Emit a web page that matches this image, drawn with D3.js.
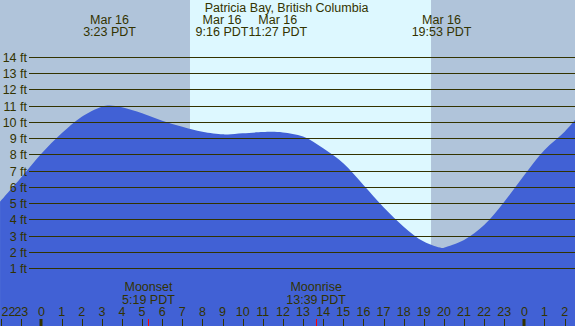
<!DOCTYPE html>
<html>
<head>
<meta charset="utf-8">
<script src="https://cdn.jsdelivr.net/npm/d3@7"></script>
<style>
html,body{margin:0;padding:0;background:#fff;}
svg{display:block;}
text{font-family:"Liberation Sans",Arial,sans-serif;font-size:12.5px;fill:#333300;}
</style>
</head>
<body>
<script>
// ---- data (hours relative to midnight Mar 16, PDT) ----
const title = "Patricia Bay, British Columbia";
const tideHours  = [-2.06, -1, 0, 1, 2, 3, 3.383, 4, 5, 6, 7, 8, 9, 9.267, 10, 11, 11.45, 12, 13, 14, 15, 16, 17, 18, 19, 19.883, 20, 21, 22, 23, 24, 25, 26, 26.52];
const tideLevels = [5.09, 6.59, 8.06, 9.29, 10.31, 10.93, 11.0, 10.89, 10.52, 10.07, 9.70, 9.39, 9.23, 9.22, 9.29, 9.37, 9.39, 9.35, 9.10, 8.37, 7.45, 6.12, 4.75, 3.56, 2.64, 2.25, 2.27, 2.74, 3.66, 5.09, 6.73, 8.27, 9.39, 10.11];
const extremeHours  = [3.383, 9.267, 11.45, 19.883];
const extremeLabels = ["3:23 PDT", "9:16 PDT", "11:27 PDT", "19:53 PDT"];
const extremeDate = "Mar 16";
const sunrise = 7.38, sunset = 19.36;
const moonHours  = [5.317, 13.65];
const moonNames  = ["Moonset", "Moonrise"];
const moonLabels = ["5:19 PDT", "13:39 PDT"];
const yTicks = [1,2,3,4,5,6,7,8,9,10,11,12,13,14];
const hourTicks = d3.range(-2, 27);

// ---- layout ----
const W = 575, H = 326;
const x = d3.scaleLinear().domain([-2.0626, 26.516]).range([0, W]);
const y = d3.scaleLinear().domain([0, 14]).range([284.58, 56.7]);

const svg = d3.select("body").append("svg").attr("width", W).attr("height", H);

const nightCol = "#b0c4da", dayCol = "#ddf8ff", waterCol = "#4161d5", ink = "#333300";

// backgrounds
svg.append("rect").attr("x",0).attr("y",0).attr("width",W).attr("height",H).attr("fill",nightCol);
svg.append("rect").attr("x",x(sunrise)).attr("y",0).attr("width",x(sunset)-x(sunrise)).attr("height",H).attr("fill",dayCol);

// water
const pts = tideHours.map((h,i)=>[h, tideLevels[i]]);
const area = d3.area().x(d=>x(d[0])).y0(H).y1(d=>y(d[1])).curve(d3.curveCatmullRom.alpha(0.5));
svg.append("path").datum(pts).attr("d", area).attr("fill", waterCol);

// grid lines + y labels
const yAxis = svg.append("g");
yTicks.forEach(v=>{
  const yy = Math.round(y(v)) + 0.5;
  yAxis.append("line").attr("x1",29).attr("x2",W).attr("y1",yy).attr("y2",yy)
    .attr("stroke",ink).attr("stroke-width",1);
  yAxis.append("text").attr("x",27).attr("y",yy+4).attr("text-anchor","end").text(v+" ft");
});

// title
svg.append("text").attr("x",286.5).attr("y",12).attr("text-anchor","middle").text(title);

// extreme labels with collision avoidance
const lab = svg.append("g");
const groups = extremeHours.map((h,i)=>{
  const g = lab.append("g");
  const t1 = g.append("text").attr("y",24).attr("text-anchor","middle").text(extremeDate);
  const t2 = g.append("text").attr("y",36).attr("text-anchor","middle").text(extremeLabels[i]);
  const w = Math.max(t1.node().getComputedTextLength(), t2.node().getComputedTextLength());
  return {g, cx:x(h), w};
});
for (let iter=0; iter<10; iter++){
  for (let i=0;i<groups.length-1;i++){
    const a=groups[i], b=groups[i+1];
    const need=(a.w+b.w)/2, d=b.cx-a.cx;
    if (d<need){ const s=(need-d)/2; a.cx-=s; b.cx+=s; }
  }
}
groups.forEach(o=>o.g.attr("transform",`translate(${o.cx},0)`));

// moon labels
moonHours.forEach((h,i)=>{
  svg.append("text").attr("x",x(h)).attr("y",290.7).attr("text-anchor","middle").text(moonNames[i]);
  svg.append("text").attr("x",x(h)).attr("y",303.7).attr("text-anchor","middle").text(moonLabels[i]);
});

// hour ticks + labels
const hx = svg.append("g");
hourTicks.forEach(h=>{
  const xx = Math.round(x(h));
  const mid = ((h%24)+24)%24===0;
  if (mid){
    hx.append("rect").attr("x",xx-1.5).attr("y",319).attr("width",3).attr("height",H-319).attr("fill",ink);
  } else {
    hx.append("line").attr("x1",xx+0.5).attr("x2",xx+0.5).attr("y1",319).attr("y2",H).attr("stroke",ink);
  }
  const t = hx.append("text").attr("y",316).attr("text-anchor","middle").text(((h%24)+24)%24);
  const w = t.node().getComputedTextLength();
  let cx = x(h);
  cx = Math.max(w/2+1.5, Math.min(W-w/2-0.5, cx));
  t.attr("x",cx);
});
moonHours.forEach(h=>{
  const xx = Math.round(x(h));
  hx.append("line").attr("x1",xx+0.5).attr("x2",xx+0.5).attr("y1",319).attr("y2",H).attr("stroke","#ff0000");
});
</script>
</body>
</html>
